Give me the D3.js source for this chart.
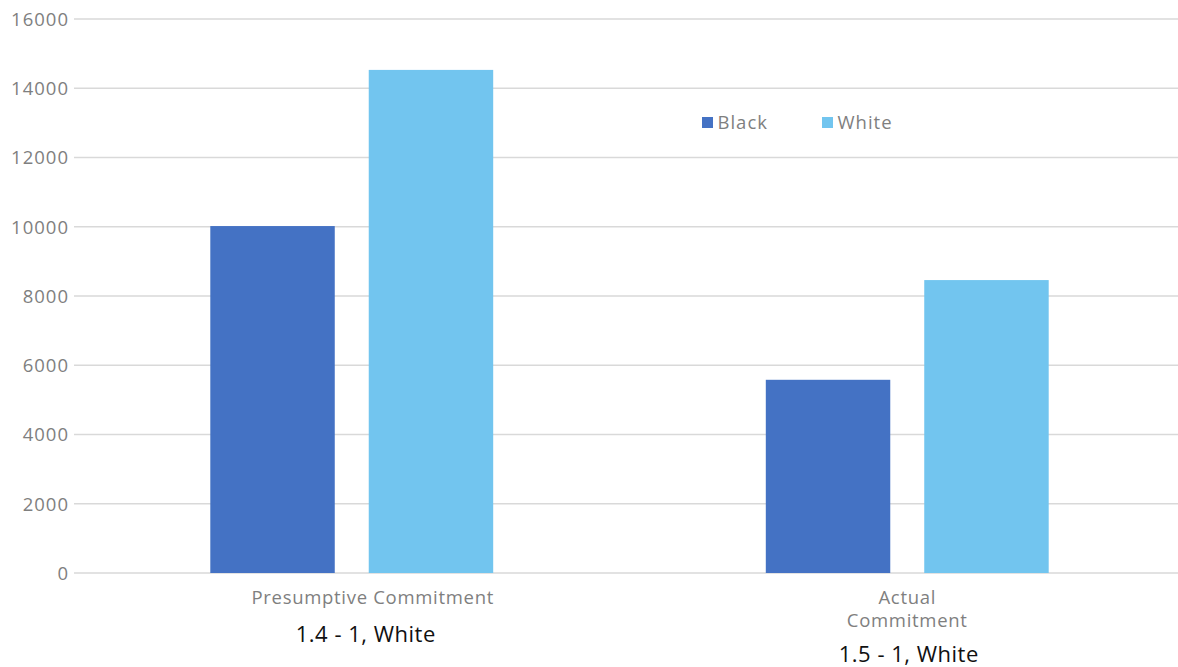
<!DOCTYPE html>
<html>
<head>
<meta charset="utf-8">
<script src="https://cdn.jsdelivr.net/npm/d3@7"></script>
<style>
  html, body { margin: 0; padding: 0; background: #fff; }
  svg { display: block; font-family: "Open Sans", sans-serif; }
</style>
</head>
<body>
<svg id="chart" width="1178" height="667"></svg>
<script>
const categories = ["Presumptive Commitment", "Actual Commitment"];
const categoryLines = [["Presumptive Commitment"], ["Actual", "Commitment"]];
const ratioLabels = ["1.4 - 1, White", "1.5 - 1, White"];
const seriesNames = ["Black", "White"];
const blackValues = [10020, 5580];
const whiteValues = [14530, 8460];
const yTicks = [0, 2000, 4000, 6000, 8000, 10000, 12000, 14000, 16000];
const colors = ["#4472C4", "#72C5EF"];

(function () {
const svg = d3.select("#chart");
const plotLeft = 74, plotRight = 1185, plotTop = 19, plotBottom = 573;

const x = d3.scaleBand().domain(categories).range([plotLeft, plotRight]).paddingInner(0).paddingOuter(0);
const y = d3.scaleLinear().domain([0, 16000]).range([plotBottom, plotTop]);
const groupInner = 283 / 555.7;
const x1 = d3.scaleBand().domain(seriesNames)
  .range([x.bandwidth() * (1 - groupInner) / 2, x.bandwidth() * (1 + groupInner) / 2])
  .paddingInner(34 / 158.5).paddingOuter(0);

// gridlines
svg.append("g").selectAll("line").data(yTicks).join("line")
  .attr("x1", plotLeft).attr("x2", 1178)
  .attr("y1", d => y(d)).attr("y2", d => y(d))
  .attr("stroke", "#d9d9d9").attr("stroke-width", 1.5);

// y axis
const yAxis = d3.axisLeft(y).tickValues(yTicks).tickSize(0).tickPadding(0).tickFormat(d3.format("d"));
const ya = svg.append("g").attr("transform", `translate(69,0)`).call(yAxis);
ya.select(".domain").remove();
ya.selectAll("text").attr("fill", "#7f7f7f").attr("font-size", 18.5)
  .attr("letter-spacing", 1)
  .attr("font-family", "'Open Sans', sans-serif").attr("dy", "0.35em");

// bars
const rows = categories.map((c, i) => ({ cat: c, vals: [blackValues[i], whiteValues[i]] }));
const groups = svg.append("g").selectAll("g").data(rows).join("g")
  .attr("transform", d => `translate(${x(d.cat)},0)`);
groups.selectAll("rect").data(d => d.vals.map((v, j) => ({ s: seriesNames[j], v, j })))
  .join("rect")
  .attr("x", d => x1(d.s)).attr("width", x1.bandwidth())
  .attr("y", d => y(d.v)).attr("height", d => y(0) - y(d.v))
  .attr("fill", d => colors[d.j]);

// category labels
const labelOffsets = [21, 0];
categories.forEach((c, i) => {
  const cx = x(c) + x.bandwidth() / 2 + labelOffsets[i];
  const t = svg.append("text").attr("text-anchor", "middle").attr("fill", "#7f7f7f")
    .attr("font-size", 18.5).attr("letter-spacing", 0.7);
  categoryLines[i].forEach((line, k) => {
    t.append("tspan").attr("x", cx).attr("y", 604 + k * 22.7).text(line);
  });
});

// ratio labels
const ratioBaselines = [642, 662];
const ratioOffsets = [14, 1.5];
ratioLabels.forEach((r, i) => {
  svg.append("text").attr("text-anchor", "middle")
    .attr("x", x(categories[i]) + x.bandwidth() / 2 + ratioOffsets[i])
    .attr("y", ratioBaselines[i])
    .attr("fill", "#111").attr("font-size", 22).attr("letter-spacing", 0.5).text(r);
});

// legend
const legendX = [702, 822];
const lg = svg.append("g").selectAll("g").data(seriesNames).join("g")
  .attr("transform", (d, i) => `translate(${legendX[i]},0)`);
lg.append("rect").attr("x", 0).attr("y", 117).attr("width", 11).attr("height", 11)
  .attr("fill", (d, i) => colors[i]);
lg.append("text").attr("x", 15.5).attr("y", 129.3).attr("fill", "#7f7f7f")
  .attr("font-size", 18.5).attr("letter-spacing", 1).text(d => d);
})();
</script>
</body>
</html>
